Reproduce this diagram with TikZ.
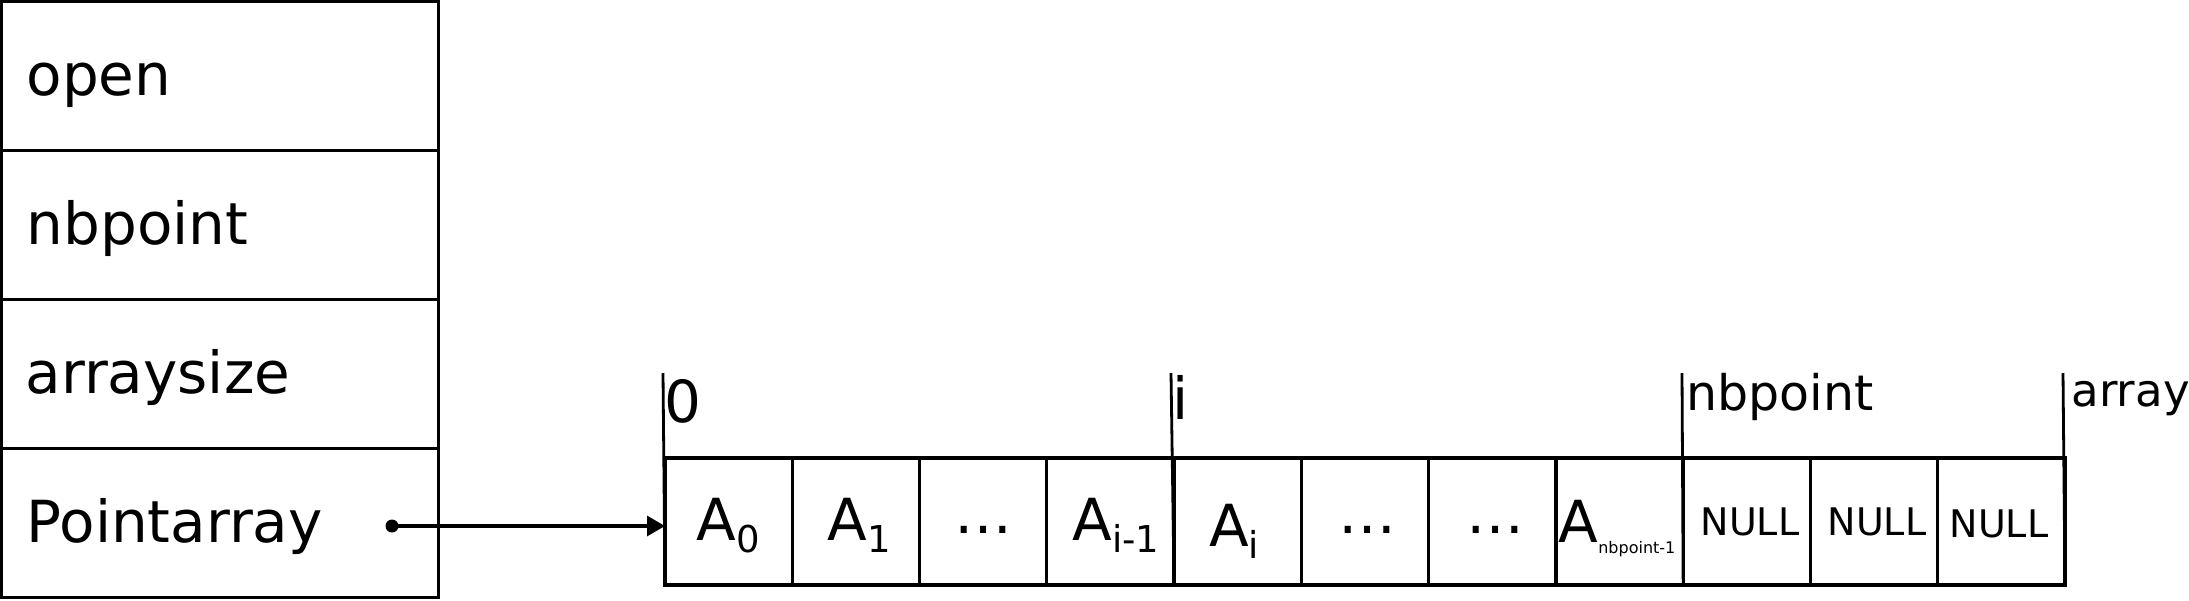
\documentclass[tikz,border=0pt]{standalone}
\usepackage{fontspec}
\setmainfont{DejaVu Sans}
\usetikzlibrary{arrows.meta}
\newcommand\mybig{\fontsize{58}{60}\selectfont}
\newcommand\mysub[2][37]{\raisebox{-12pt}{\fontsize{#1}{#1}\selectfont #2}}
\begin{document}
\begin{tikzpicture}[x=1pt,y=-1pt,line width=3.2pt,
  rowbox/.style={draw,rectangle,inner sep=0pt,outer sep=0pt,minimum width=437pt,minimum height=149pt,anchor=north west},
  cellbox/.style={draw,rectangle,inner sep=0pt,outer sep=0pt,minimum width=127.27pt,minimum height=127pt},
  fieldlbl/.style={font=\mybig,inner sep=0pt,anchor=base west},
  celltxt/.style={font=\mybig,inner sep=0pt,anchor=base},
  nulltxt/.style={font=\fontsize{38}{40}\selectfont,inner sep=0pt,anchor=base},
  idxlbl/.style={inner sep=0pt,anchor=base west},
  tick/.style={line width=2.8pt},
  ptr/.style={-{Triangle[length=18pt,width=20pt]}}]
\useasboundingbox (0,0) rectangle (2189,600);
% structure
\node[rowbox] (r1) at (1.5,1.5) {};
\node[rowbox] (r2) at (1.5,150.5) {};
\node[rowbox] (r3) at (1.5,299.5) {};
\node[rowbox] (r4) at (1.5,448.5) {};
\node[fieldlbl] (l1) at (25,95) {open};
\node[fieldlbl] (l2) at (25,244) {nbpoint};
\node[fieldlbl] (l3) at (24,393) {arraysize};
\node[fieldlbl] (l4) at (25,542) {Pointarray};
% array cells
\foreach \k in {1,...,11}
  \node[cellbox] (c\k) at ({665+(\k-0.5)*127.27},521.5) {};
% cell contents
\node[celltxt] (t1) at (728,540) {A\mysub{0}};
\node[celltxt] (t2) at (859,540) {A\mysub{1}};
\node[celltxt] (t3) at (983,533) {…};
\node[celltxt] (t4) at (1116,540) {A\mysub{i-1}};
\node[celltxt] (t5) at (1234,546) {A\mysub{i}};
\node[celltxt] (t6) at (1367,533) {…};
\node[celltxt] (t7) at (1495,533) {…};
\node[celltxt] (t8) at (1617,542) {A\raisebox{-11pt}{\fontsize{16}{16}\selectfont nbpoint-1}};
\node[nulltxt] (t9) at (1750,535) {NULL};
\node[nulltxt] (t10) at (1877,535) {NULL};
\node[nulltxt] (t11) at (1999,537) {NULL};
% index ticks
\coordinate (k0) at (663,373);
\coordinate (ki) at (1171,373);
\coordinate (kn) at (1682,373);
\coordinate (ka) at (2063,373);
\draw[tick] (k0) -- (c1.south west);
\draw[tick] (ki) -- (c4.south east);
\draw[tick] (kn) -- (c8.south east);
\draw[tick] (ka) -- (c11.south east);
\node[idxlbl,font=\mybig] (i0) at (663,422) {0};
\node[idxlbl,font=\mybig] (ii) at (1171,419) {i};
\node[idxlbl,font=\fontsize{49}{50}\selectfont] (in) at (1685,410) {nbpoint};
\node[idxlbl,font=\fontsize{45}{46}\selectfont] (ia) at (2070,406) {array};
% pointer
\node[circle,fill,inner sep=0pt,minimum size=13pt] (dot) at (392,526) {};
\draw[ptr] (dot.center) -- (c1.west |- dot.center);
\end{tikzpicture}
\end{document}
